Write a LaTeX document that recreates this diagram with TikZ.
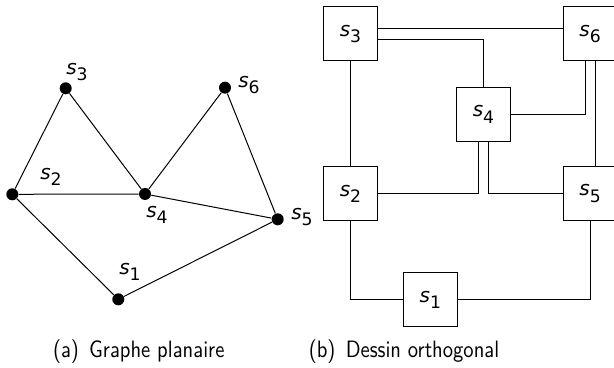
\documentclass[tikz,border=0pt]{standalone}
\usepackage{fontspec}
\usepackage{graphicx}
\usepackage{tikz}
\usetikzlibrary{calc,positioning}
\newfontfamily\lblfont{DejaVu Sans}
\tikzset{
  gedge/.style={line width=0.5pt, black},
  gdot/.style={circle, fill=black, inner sep=0pt, minimum size=6pt},
  glabel/.style={inner sep=0pt},
  obox/.style={draw=black, line width=0.5pt, fill=white, minimum size=27pt,
               inner sep=0pt},
  caption/.style={font=\sffamily\fontsize{10.3}{12}\selectfont, inner sep=0pt},
}
% vertex name: oblique s with a lowered index
\newcommand{\sv}[1]{{\lblfont\fontsize{10}{12}\selectfont\itshape s}%
  \raisebox{-3.2pt}{\lblfont\fontsize{8.6}{10}\selectfont #1}}
\newcommand{\subcap}[2]{\scalebox{1}[1.15]{(#1)\enspace #2}}

\begin{document}
\begin{tikzpicture}[x=0.5pt,y=-0.5pt,line cap=butt]
  \useasboundingbox (0,0) rectangle (614,368);
  % ====== (a) planar graph ======
  \begin{scope}
    \node[gdot] (a1) at (118.3,299.3) {};
    \node[gdot] (a2) at (12.3,194.3)  {};
    \node[gdot] (a3) at (65.7,88.3)   {};
    \node[gdot] (a4) at (145,194)     {};
    \node[gdot] (a5) at (277.7,219.3) {};
    \node[gdot] (a6) at (225,87.7)    {};
    \draw[gedge] (a2) -- (a3) -- (a4) -- (a6) -- (a5) -- (a1) -- (a2) -- (a4) -- (a5);
    \node[glabel] (la1) at (130,272) {\sv1};
    \node[glabel] (la2) at (51,177)  {\sv2};
    \node[glabel] (la3) at (77,72)   {\sv3};
    \node[glabel] (la4) at (157,215) {\sv4};
    \node[glabel] (la5) at (302,217) {\sv5};
    \node[glabel] (la6) at (249,85)  {\sv6};
    \node[caption] (capa) at (138.7,351.5) {\subcap{a}{Graphe planaire}};
  \end{scope}
  % ====== (b) orthogonal drawing ======
  \begin{scope}
    \node[obox] (b1) at (430.3,299.7) {\sv1};
    \node[obox] (b2) at (350.5,193.7) {\sv2};
    \node[obox] (b3) at (350.5,34)    {\sv3};
    \node[obox] (b4) at (483.5,114.3) {\sv4};
    \node[obox] (b5) at (590,193.7)   {\sv5};
    \node[obox] (b6) at (590,34)      {\sv6};
    \draw[gedge] ([yshift=2.5pt]b3.east) -- ([yshift=2.5pt]b3.east -| b6.west); % s3-s6
    \draw[gedge] ([yshift=-2.8pt]b3.east) -| (b4.north);                        % s3-s4
    \draw[gedge] (b3.south) -- (b2.north);                                      % s3-s2
    \draw[gedge] ([xshift=-2.5pt]b6.south) |- (b4.east);                        % s6-s4
    \draw[gedge] ([xshift=2.5pt]b6.south) -- ([xshift=2.5pt]b5.north);          % s6-s5
    \draw[gedge] ([xshift=-2.6pt]b4.south) |- (b2.east);                        % s4-s2
    \draw[gedge] ([xshift=2.6pt]b4.south) |- (b5.west);                         % s4-s5
    \draw[gedge] (b2.south) |- (b1.west);                                       % s2-s1
    \draw[gedge] (b5.south) |- (b1.east);                                       % s5-s1
    \node[caption] (capb) at (404,351.5) {\subcap{b}{Dessin orthogonal}};
  \end{scope}
\end{tikzpicture}
\end{document}
